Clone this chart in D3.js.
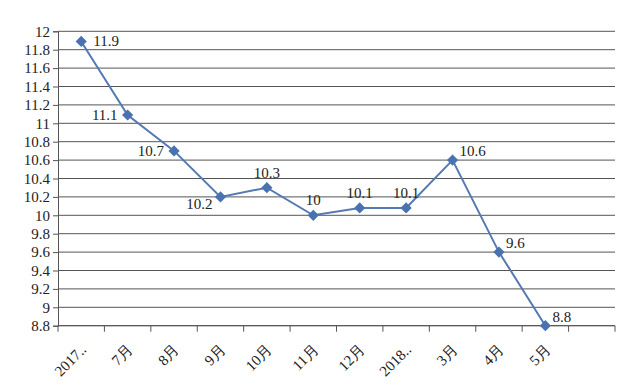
<!DOCTYPE html>
<html><head><meta charset="utf-8">
<script src="https://cdn.jsdelivr.net/npm/d3@7"></script>
<style>body{margin:0;background:#fff}svg{display:block}text{font-family:"Liberation Serif","Times New Roman",serif;fill:#222}</style>
</head><body><svg id="c" width="640" height="390"></svg>
<script>
const categories = ["2017..","7月","8月","9月","10月","11月","12月","2018..","3月","4月","5月",""];
const values = [11.89,11.09,10.7,10.2,10.3,10.0,10.08,10.08,10.6,9.6,8.8];
const yTicks = [8.8,9,9.2,9.4,9.6,9.8,10,10.2,10.4,10.6,10.8,11,11.2,11.4,11.6,11.8,12];
const labelPos = ["right","left","left","belowleft","above","above","above","above","aboveright","aboveright","aboveright"];

const svg = d3.select("#c");
const m = {l:58, r:25, t:31.3, b:64.3};
const W = 640, H = 390;
const x = d3.scaleBand().domain(categories.map((c,i)=>i)).range([m.l, W-m.r]).padding(0);
const y = d3.scaleLinear().domain([8.8,12]).range([H-m.b, m.t]);

// gridlines
svg.append("g").selectAll("line").data(yTicks).join("line")
  .attr("x1", m.l).attr("x2", W-m.r).attr("y1", d=>y(d)).attr("y2", d=>y(d))
  .attr("stroke", "#555").attr("stroke-width", 1);

// y axis
const ya = svg.append("g").attr("transform", `translate(${m.l},0)`)
  .call(d3.axisLeft(y).tickValues(yTicks).tickSize(5).tickFormat(d=>String(+d.toFixed(1))));
ya.select(".domain").attr("stroke","#555");
ya.selectAll(".tick line").attr("stroke","#555");
ya.selectAll(".tick text").attr("font-size", 15).attr("x", -8).style("font-family","Liberation Serif").attr("fill","#222");

// x axis baseline and ticks at band boundaries
const xa = svg.append("g");
xa.append("line").attr("x1", m.l).attr("x2", W-m.r).attr("y1", y(8.8)).attr("y2", y(8.8)).attr("stroke","#555");
const bounds = categories.map((c,i)=>x(i)).concat([W-m.r]);
xa.selectAll("line.t").data(bounds).join("line").attr("class","t")
  .attr("x1", d=>d).attr("x2", d=>d).attr("y1", y(8.8)).attr("y2", y(8.8)+6).attr("stroke","#555");
xa.selectAll("text").data(categories).join("text")
  .attr("transform", (d,i)=>`translate(${x(i)+x.bandwidth()/2+6},${y(8.8)+25}) rotate(-45)`)
  .attr("text-anchor","end").attr("font-size", 15).text(d=>d);

// line
const cx = i => x(i) + x.bandwidth()/2;
svg.append("path").datum(values)
  .attr("d", d3.line().x((d,i)=>cx(i)).y(d=>y(d)))
  .attr("fill","none").attr("stroke","#5479b3").attr("stroke-width",2);

svg.append("g").selectAll("path").data(values).join("path")
  .attr("d", d3.symbol(d3.symbolDiamond2, 80)())
  .attr("transform", (d,i)=>`translate(${cx(i)},${y(d)})`)
  .attr("fill","#4a72b0");

// labels
svg.append("g").selectAll("text").data(values).join("text")
  .attr("font-size", 15)
  .attr("x", (d,i)=>{const p=labelPos[i]; return p==="right"?cx(i)+12:p==="left"?cx(i)-10:p==="belowleft"?cx(i)-8:p==="aboveright"?cx(i)+7:cx(i);})
  .attr("y", (d,i)=>{const p=labelPos[i]; return p==="right"||p==="left"?y(d)+5:p==="belowleft"?y(d)+12:p==="aboveright"?y(d)-4:y(d)-10;})
  .attr("text-anchor", (d,i)=>{const p=labelPos[i]; return p==="left"||p==="belowleft"?"end":p==="above"?"middle":"start";})
  .text(d=>String(+d.toFixed(1)));
</script></body></html>
